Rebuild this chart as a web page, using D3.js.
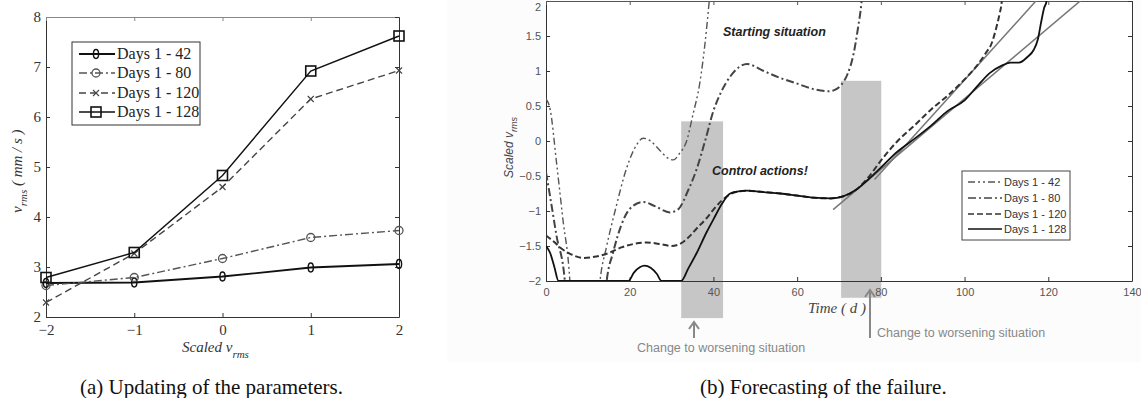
<!DOCTYPE html>
<html>
<head>
<meta charset="utf-8">
<script src="https://cdn.jsdelivr.net/npm/d3@7"></script>
<style>
  body { margin: 0; background: #fff; }
  svg { display: block; }
</style>
</head>
<body>
<svg id="fig" width="1141" height="398"></svg>
<script>
// ---- panel (a): parameter updating ----
const scaledVrms = [-2, -1, 0, 1, 2];
const aDays42 = [2.68, 2.69, 2.81, 2.99, 3.06];
const aDays80 = [2.63, 2.79, 3.17, 3.59, 3.73];
const aDays120 = [2.29, 3.27, 4.60, 6.36, 6.93];
const aDays128 = [2.79, 3.29, 4.83, 6.92, 7.62];
const aTicksX = [-2, -1, 0, 1, 2];
const aTicksY = [2, 3, 4, 5, 6, 7, 8];
const aLegend = ["Days 1 - 42", "Days 1 - 80", "Days 1 - 120", "Days 1 - 128"];

// ---- panel (b): forecasting, [day, scaled vrms] ----
const bDays42 = [[0,0.6],[1,0.45],[2.5,-0.3],[4,-1.1],[5.7,-2.0],[6,-2.3],[12.4,-2.3],[12.9,-2.0],[14.5,-1.5],
  [16.5,-1.0],[19.3,-0.38],[21.7,-0.05],[23.2,0.04],[25,0.0],[27,-0.12],[29,-0.24],[30.4,-0.27],[32,-0.17],
  [33.6,0.0],[35,0.35],[36.8,0.85],[38,1.4],[39,2.0],[39.6,2.4]];
const bDays80 = [[0,-0.45],[1,-0.8],[2.5,-1.35],[4.5,-2.0],[4.8,-2.3],[14,-2.3],[14.5,-2.0],[16,-1.6],[18,-1.2],
  [20,-0.97],[23.2,-0.87],[26,-0.93],[29.6,-1.02],[31.5,-0.98],[34,-0.7],[36,-0.4],[38,0.0],[40,0.43],[42,0.72],
  [44,0.92],[46,1.05],[48,1.1],[52,1.0],[56,0.9],[60,0.82],[64,0.74],[67.5,0.71],[69,0.73],[70.5,0.8],[72,0.95],
  [73.5,1.25],[74.5,1.6],[75.4,2.0],[75.8,2.3]];
const bDays120 = [[0,-1.35],[1.5,-1.42],[4,-1.55],[6,-1.62],[9,-1.67],[12,-1.65],[15,-1.6],[18,-1.52],[21,-1.47],
  [24,-1.45],[27,-1.47],[30,-1.5],[32,-1.47],[34,-1.38],[36,-1.25],[38.4,-1.1],[40,-0.98],[42,-0.85],[44,-0.76],
  [46,-0.72],[48,-0.71],[52,-0.73],[56,-0.75],[60,-0.78],[64,-0.81],[68,-0.82],[71,-0.79],[74,-0.7],[77,-0.52],
  [80,-0.28],[84,0.0],[88,0.22],[92,0.45],[96,0.65],[100,0.88],[103,1.08],[105,1.25],[106.5,1.4],[107.5,1.6],
  [108.3,1.8],[108.9,2.0],[109.3,2.3]];
const bDays128 = [[0,-1.5],[1,-1.6],[2,-1.8],[3,-2.0],[19.7,-2.0],[21,-1.88],[22.5,-1.8],[23.5,-1.78],[25,-1.81],
  [26.5,-1.9],[27.6,-2.0],[32.3,-2.0],[34,-1.82],[36,-1.6],[38.4,-1.3],[40,-1.12],[42,-0.9],[44,-0.75],[46,-0.72],
  [48,-0.71],[52,-0.73],[56,-0.75],[60,-0.78],[64,-0.81],[68,-0.82],[71,-0.79],[74,-0.7],[77,-0.55],[80,-0.38],
  [84,-0.15],[88,0.03],[92,0.22],[96,0.43],[100,0.58],[103,0.78],[106,0.97],[109,1.08],[111,1.12],[113,1.12],
  [115,1.2],[116.5,1.3],[117.5,1.45],[118.3,1.7],[119,1.9],[119.6,2.0],[120,2.2]];
const bTrendA = [[78.5,-0.55],[117.8,2.05]];
const bTrendB = [[68.6,-0.98],[128.6,2.05]];
const bBoxes = [[32.3, 42.3, 0.28, -2.53], [70.5, 80.1, 0.86, -2.24]];
const bTicksX = [0, 20, 40, 60, 80, 100, 120, 140];
const bTicksY = [-2, -1.5, -1, -0.5, 0, 0.5, 1, 1.5, 2];
const bLegend = ["Days 1 - 42", "Days 1 - 80", "Days 1 - 120", "Days 1 - 128"];

const svg = d3.select("#fig");

// faint background of the right picture
svg.append("rect").attr("x", 447).attr("y", 0).attr("width", 694).attr("height", 362).attr("fill", "#fcfcfc");

function frame(g, x, y, color, topColor, font, size, fmt, tx, ty) {
  const [x0, x1] = x.range(), [y0, y1] = y.range();
  const bottom = g.append("g").attr("transform", `translate(0,${y0})`)
    .call(d3.axisBottom(x).tickValues(tx).tickSize(-4).tickSizeOuter(0).tickPadding(7).tickFormat(fmt));
  const left = g.append("g").attr("transform", `translate(${x0},0)`)
    .call(d3.axisLeft(y).tickValues(ty).tickSize(-4).tickSizeOuter(0).tickPadding(5).tickFormat(fmt));
  const top = g.append("g").attr("transform", `translate(0,${y1})`)
    .call(d3.axisTop(x).tickValues(tx).tickSize(-4).tickSizeOuter(0).tickFormat(""));
  const right = g.append("g").attr("transform", `translate(${x1},0)`)
    .call(d3.axisRight(y).tickValues(ty).tickSize(-4).tickSizeOuter(0).tickFormat(""));
  [bottom, left, right].forEach(a => a.selectAll("path,line").attr("stroke", color));
  top.selectAll("path,line").attr("stroke", topColor);
  [bottom, left].forEach(a => a.selectAll("text")
    .attr("font-family", font).attr("font-size", size).attr("fill", "#333"));
  return { bottom, left };
}

// ===== panel (a) =====
const xa = d3.scaleLinear().domain([-2, 2]).range([46, 399]);
const ya = d3.scaleLinear().domain([2, 8]).range([317, 17]);
const ga = svg.append("g");
frame(ga, xa, ya, "#333", "#888", "Liberation Serif", 15, d3.format("d"), aTicksX, aTicksY);

const aSeries = [
  { v: aDays42, dash: null, color: "#111", w: 1.8, mark: "diamond" },
  { v: aDays80, dash: "8,3,2,3", color: "#555", w: 1.4, mark: "circle" },
  { v: aDays120, dash: "7,4", color: "#444", w: 1.4, mark: "x" },
  { v: aDays128, dash: null, color: "#111", w: 1.4, mark: "square" }
];
const lineA = d3.line().x((d, i) => xa(scaledVrms[i])).y(d => ya(d));

function marker(g, kind, cx, cy, color) {
  if (kind === "diamond") {
    g.append("ellipse").attr("cx", cx).attr("cy", cy).attr("rx", 2.6).attr("ry", 4.5)
      .attr("fill", "none").attr("stroke", color).attr("stroke-width", 1.4);
  } else if (kind === "circle") {
    g.append("circle").attr("cx", cx).attr("cy", cy).attr("r", 4)
      .attr("fill", "none").attr("stroke", color).attr("stroke-width", 1.3);
  } else if (kind === "x") {
    g.append("path").attr("d", `M${cx - 3},${cy - 3}L${cx + 3},${cy + 3}M${cx - 3},${cy + 3}L${cx + 3},${cy - 3}`)
      .attr("stroke", color).attr("stroke-width", 1.1);
  } else {
    g.append("rect").attr("x", cx - 5).attr("y", cy - 5).attr("width", 10).attr("height", 10)
      .attr("fill", "none").attr("stroke", color).attr("stroke-width", 1.6);
  }
}

aSeries.forEach(s => {
  ga.append("path").datum(s.v).attr("d", lineA).attr("fill", "none")
    .attr("stroke", s.color).attr("stroke-width", s.w).attr("stroke-dasharray", s.dash);
  s.v.forEach((v, i) => marker(ga, s.mark, xa(scaledVrms[i]), ya(v), s.color));
});

// legend (a)
const la = ga.append("g");
la.append("rect").attr("x", 72).attr("y", 42).attr("width", 128).attr("height", 83)
  .attr("fill", "#fff").attr("stroke", "#333").attr("stroke-width", 1);
const aRows = [54, 73, 93, 112];
aSeries.forEach((s, i) => {
  la.append("line").attr("x1", 79).attr("x2", 115).attr("y1", aRows[i]).attr("y2", aRows[i])
    .attr("stroke", s.color).attr("stroke-width", s.w).attr("stroke-dasharray", s.dash);
  marker(la, s.mark, 96, aRows[i], s.color);
  la.append("text").attr("x", 117).attr("y", aRows[i] + 5).text(aLegend[i])
    .attr("font-family", "Liberation Serif").attr("font-size", 16).attr("fill", "#222");
});

// axis labels (a)
const ylabA = ga.append("text").attr("transform", "translate(22,213) rotate(-90)")
  .attr("font-family", "Liberation Serif").attr("font-style", "italic").attr("font-size", 15).attr("fill", "#333");
ylabA.append("tspan").text("v");
ylabA.append("tspan").text("rms").attr("font-size", 11).attr("dy", 5);
ylabA.append("tspan").text("  ( mm / s )").attr("dy", -5);

const xlabA = ga.append("text").attr("x", 182).attr("y", 352)
  .attr("font-family", "Liberation Serif").attr("font-style", "italic").attr("font-size", 15).attr("fill", "#333");
xlabA.append("tspan").text("Scaled v");
xlabA.append("tspan").text("rms").attr("font-size", 11).attr("dy", 6);

svg.append("text").attr("x", 80).attr("y", 394).text("(a)  Updating of the parameters.")
  .attr("font-family", "Liberation Serif").attr("font-size", 21).attr("fill", "#111");

// ===== panel (b) =====
const xb = d3.scaleLinear().domain([0, 140]).range([546, 1132]);
const yb = d3.scaleLinear().domain([-2, 2]).range([281, 1]);
const gb = svg.append("g");

gb.append("rect").attr("x", 546).attr("y", 1).attr("width", 586).attr("height", 280).attr("fill", "#fff");

// grey windows
gb.selectAll("rect.win").data(bBoxes).enter().append("rect").attr("class", "win")
  .attr("x", d => xb(d[0])).attr("width", d => xb(d[1]) - xb(d[0]))
  .attr("y", d => yb(d[2])).attr("height", d => yb(d[3]) - yb(d[2]))
  .attr("fill", "#c6c6c6");

const fb = frame(gb, xb, yb, "#333", "#555", "Liberation Sans", 11, d3.format("~g"), bTicksX, bTicksY);
fb.bottom.selectAll("text").attr("fill", "#555");
fb.left.selectAll("text").attr("fill", "#555")
  .attr("dy", d => d === 2 ? "0.9em" : "0.32em");

svg.append("clipPath").attr("id", "clipb").append("rect")
  .attr("x", 546).attr("y", 1).attr("width", 586).attr("height", 280);

const lineB = d3.line().x(d => xb(d[0])).y(d => yb(d[1])).curve(d3.curveMonotoneX);
const curves = gb.append("g").attr("clip-path", "url(#clipb)");

[bTrendA, bTrendB].forEach(t => {
  curves.append("path").datum(t).attr("d", d3.line().x(d => xb(d[0])).y(d => yb(d[1])))
    .attr("fill", "none").attr("stroke", "#777").attr("stroke-width", 1.5);
});

const bSeries = [
  { v: bDays42, dash: "7,3,2,3,2,3", color: "#555", w: 1.4 },
  { v: bDays80, dash: "8,3,2,3", color: "#444", w: 2 },
  { v: bDays120, dash: "6,3", color: "#333", w: 2 },
  { v: bDays128, dash: null, color: "#111", w: 1.8 }
];
bSeries.forEach(s => {
  curves.append("path").datum(s.v).attr("d", lineB).attr("fill", "none")
    .attr("stroke", s.color).attr("stroke-width", s.w).attr("stroke-dasharray", s.dash);
});

// legend (b)
const lb = gb.append("g");
lb.append("rect").attr("x", 962).attr("y", 171).attr("width", 108).attr("height", 69)
  .attr("fill", "#fff").attr("stroke", "#444").attr("stroke-width", 1);
const bRows = [182, 198, 214, 229];
bSeries.forEach((s, i) => {
  lb.append("line").attr("x1", 968).attr("x2", 1002).attr("y1", bRows[i]).attr("y2", bRows[i])
    .attr("stroke", s.color).attr("stroke-width", 1.5).attr("stroke-dasharray", s.dash);
  lb.append("text").attr("x", 1004).attr("y", bRows[i] + 4).text(bLegend[i])
    .attr("font-family", "Liberation Sans").attr("font-size", 11).attr("fill", "#333");
});

// annotations
const note = (x, y, t) => gb.append("text").attr("x", x).attr("y", y).text(t)
  .attr("font-family", "Liberation Sans").attr("font-weight", "bold").attr("font-style", "italic")
  .attr("font-size", 12.5).attr("fill", "#222");
note(723, 36, "Starting situation");
note(712, 175, "Control actions!");

const ylabB = gb.append("text").attr("transform", "translate(513,178) rotate(-90)")
  .attr("font-family", "Liberation Sans").attr("font-style", "italic").attr("font-size", 12).attr("fill", "#444");
ylabB.append("tspan").text("Scaled v");
ylabB.append("tspan").text("rms").attr("font-size", 9).attr("dy", 4);

gb.append("text").attr("x", 808).attr("y", 313).text("Time ( d )")
  .attr("font-family", "Liberation Serif").attr("font-style", "italic").attr("font-size", 15).attr("fill", "#444");

function arrow(x, yTail, yHead) {
  gb.append("path").attr("d", `M${x},${yTail}L${x},${yHead}M${x - 5},${yHead + 7}L${x},${yHead}L${x + 5},${yHead + 7}`)
    .attr("fill", "none").attr("stroke", "#888").attr("stroke-width", 2);
}
arrow(694, 338, 322);
arrow(870, 338, 290);
const change = (x, y) => gb.append("text").attr("x", x).attr("y", y).text("Change to worsening situation")
  .attr("font-family", "Liberation Sans").attr("font-size", 12.5).attr("fill", "#888");
change(637, 352);
change(877, 337);

svg.append("text").attr("x", 700).attr("y", 394).text("(b)  Forecasting of the failure.")
  .attr("font-family", "Liberation Serif").attr("font-size", 21).attr("fill", "#111");
</script>
</body>
</html>
